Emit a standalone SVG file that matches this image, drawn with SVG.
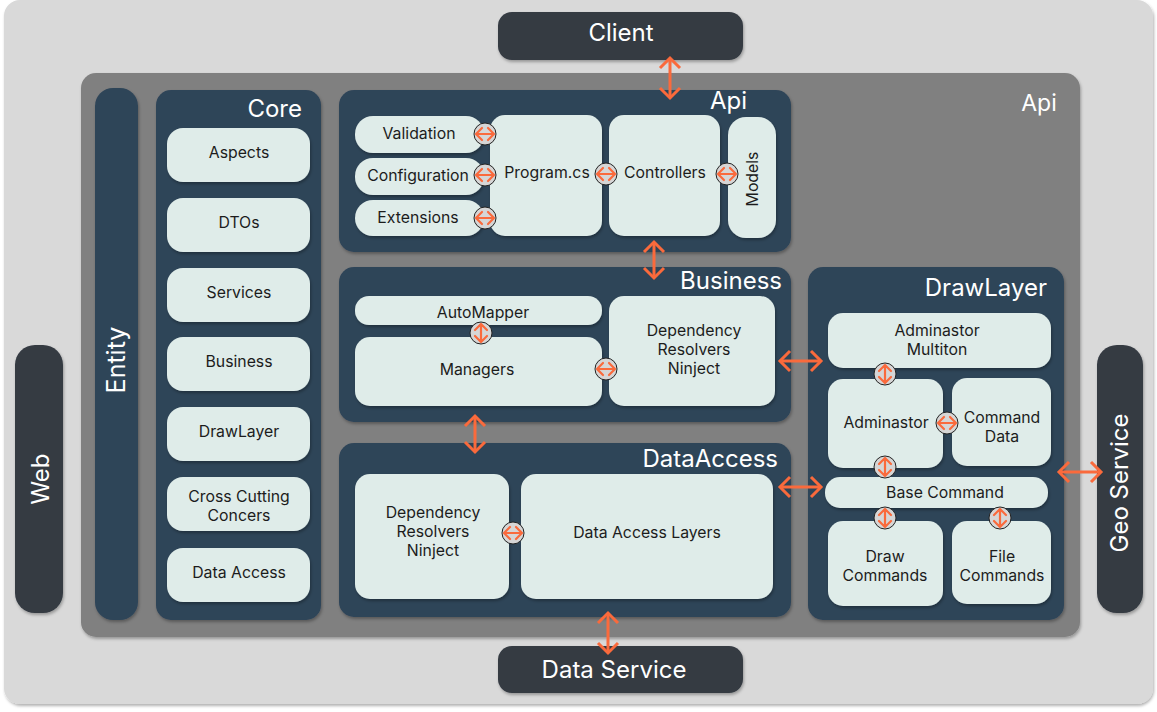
<svg xmlns="http://www.w3.org/2000/svg" width="1157" height="712" viewBox="0 0 1157 712">
<defs>
<style>
.bg{fill:#d9d9d9}
.api{fill:#808080}
.blk{fill:#2e4458}
.dark{fill:#343a42}
.it{fill:#dfece9}
.sh{filter:url(#ds)}
.t{font-family:Inter,"Liberation Sans",sans-serif;font-size:15.8px;fill:#1c1c1c;text-anchor:middle}
.L{font-family:Inter,"Liberation Sans",sans-serif;font-size:24px;fill:#ffffff;text-anchor:end}
.W{font-family:Inter,"Liberation Sans",sans-serif;font-size:24px;fill:#ffffff;text-anchor:middle}
.ar{stroke:#fa6a3c;stroke-width:3;fill:none;marker-start:url(#ch);marker-end:url(#ch)}
.cc{fill:#d6d6d6;stroke:#222;stroke-width:1}
.ca{stroke:#fa6a3c;stroke-width:2.2;fill:none;stroke-linecap:round;stroke-linejoin:round}
</style>
<filter id="ds" x="-10%" y="-10%" width="130%" height="130%">
<feDropShadow dx="1" dy="2" stdDeviation="1.6" flood-color="#000" flood-opacity="0.3"/>
</filter>
<marker id="ch" markerUnits="userSpaceOnUse" markerWidth="16" markerHeight="24" refX="12" refY="12" orient="auto-start-reverse" viewBox="0 0 16 24">
<path d="M2,2 L12,12 L2,22" fill="none" stroke="#fa6a3c" stroke-width="3"/>
</marker>
<g id="hc">
<circle class="cc" r="11"/>
<path class="ca" d="M-8,0 H8 M-3,-6 L-9,0 L-3,6 M3,-6 L9,0 L3,6"/>
</g>
<g id="vc">
<circle class="cc" r="11"/>
<path class="ca" d="M0,-8 V8 M-6,-3 L0,-9 L6,-3 M-6,3 L0,9 L6,3"/>
</g>
</defs>

<g id="background">
<rect class="bg sh" x="4" y="0" width="1149" height="704" rx="16"/>
</g>
<g id="api-container">
<rect class="api sh" x="81" y="73" width="999" height="564" rx="15"/>
<text class="W" x="1039" y="111" style="font-size:23px">Api</text>
</g>

<g id="client">
<rect class="dark sh" x="498" y="12" width="245" height="48" rx="14"/>
<text class="W" x="621" y="41">Client</text>
</g>
<g id="data-service">
<rect class="dark sh" x="498" y="646" width="245" height="47" rx="14"/>
<text class="W" x="614" y="678">Data Service</text>
</g>
<g id="web">
<rect class="dark sh" x="15" y="345" width="48" height="268" rx="20"/>
<text class="W" transform="translate(49,479) rotate(-90)">Web</text>
</g>
<g id="geo-service">
<rect class="dark sh" x="1097" y="345" width="46" height="268" rx="20"/>
<text class="W" transform="translate(1128,483) rotate(-90)">Geo Service</text>
</g>

<g id="entity">
<rect class="blk sh" x="95" y="88" width="43" height="532" rx="18"/>
<text class="W" transform="translate(125,360) rotate(-90)" style="font-size:25px">Entity</text>
</g>

<g id="core">
<rect class="blk sh" x="156" y="90" width="165" height="530" rx="15"/>
<text class="L" x="302" y="117">Core</text>
<rect class="it sh" x="167" y="128" width="143" height="54" rx="16"/>
<text class="t" x="239" y="158">Aspects</text>
<rect class="it sh" x="167" y="198" width="143" height="54" rx="16"/>
<text class="t" x="239" y="228">DTOs</text>
<rect class="it sh" x="167" y="268" width="143" height="54" rx="16"/>
<text class="t" x="239" y="298">Services</text>
<rect class="it sh" x="167" y="337" width="143" height="54" rx="16"/>
<text class="t" x="239" y="367">Business</text>
<rect class="it sh" x="167" y="407" width="143" height="54" rx="16"/>
<text class="t" x="239" y="437">DrawLayer</text>
<rect class="it sh" x="167" y="477" width="143" height="54" rx="16"/>
<text class="t" x="239" y="502">Cross Cutting</text>
<text class="t" x="239" y="521">Concers</text>
<rect class="it sh" x="167" y="548" width="143" height="54" rx="16"/>
<text class="t" x="239" y="578">Data Access</text>
</g>

<g id="api">
<rect class="blk sh" x="339" y="90" width="452" height="162" rx="15"/>
<text class="L" x="747" y="109">Api</text>
<rect class="it sh" x="355" y="116" width="129" height="37" rx="18"/>
<text class="t" x="419" y="139">Validation</text>
<rect class="it sh" x="355" y="158" width="129" height="37" rx="18"/>
<text class="t" x="418" y="181">Configuration</text>
<rect class="it sh" x="355" y="200" width="129" height="36" rx="18"/>
<text class="t" x="418" y="223">Extensions</text>
<rect class="it sh" x="490" y="115" width="112" height="121" rx="15"/>
<text class="t" x="547" y="178">Program.cs</text>
<rect class="it sh" x="609" y="115" width="111" height="121" rx="15"/>
<text class="t" x="665" y="178">Controllers</text>
<rect class="it sh" x="728" y="117" width="48" height="121" rx="18"/>
<text class="t" transform="translate(758,179) rotate(-90)">Models</text>
</g>

<g id="business">
<rect class="blk sh" x="339" y="267" width="452" height="155" rx="15"/>
<text class="L" x="782" y="289">Business</text>
<rect class="it sh" x="355" y="296" width="247" height="29" rx="14"/>
<text class="t" x="483" y="318">AutoMapper</text>
<rect class="it sh" x="355" y="337" width="247" height="69" rx="15"/>
<text class="t" x="477" y="375">Managers</text>
<rect class="it sh" x="609" y="296" width="166" height="110" rx="15"/>
<text class="t" x="694" y="336">Dependency</text>
<text class="t" x="694" y="355">Resolvers</text>
<text class="t" x="694" y="374">Ninject</text>
</g>

<g id="dataaccess">
<rect class="blk sh" x="339" y="443" width="452" height="174" rx="15"/>
<text class="L" x="778" y="467">DataAccess</text>
<rect class="it sh" x="355" y="474" width="154" height="125" rx="15"/>
<text class="t" x="433" y="518">Dependency</text>
<text class="t" x="433" y="537">Resolvers</text>
<text class="t" x="433" y="556">Ninject</text>
<rect class="it sh" x="521" y="474" width="252" height="125" rx="15"/>
<text class="t" x="647" y="538">Data Access Layers</text>
</g>

<g id="drawlayer">
<rect class="blk sh" x="808" y="267" width="256" height="353" rx="15"/>
<text class="L" x="1047" y="296">DrawLayer</text>
<rect class="it sh" x="828" y="313" width="223" height="55" rx="15"/>
<text class="t" x="937" y="336">Adminastor</text>
<text class="t" x="937" y="355">Multiton</text>
<rect class="it sh" x="828" y="379" width="115" height="89" rx="15"/>
<text class="t" x="886" y="428">Adminastor</text>
<rect class="it sh" x="952" y="378" width="99" height="88" rx="15"/>
<text class="t" x="1002" y="423">Command</text>
<text class="t" x="1002" y="442">Data</text>
<rect class="it sh" x="825" y="477" width="223" height="31" rx="15"/>
<text class="t" x="945" y="498">Base Command</text>
<rect class="it sh" x="828" y="521" width="115" height="85" rx="15"/>
<text class="t" x="885" y="562">Draw</text>
<text class="t" x="885" y="581">Commands</text>
<rect class="it sh" x="952" y="521" width="99" height="83" rx="15"/>
<text class="t" x="1002" y="562">File</text>
<text class="t" x="1002" y="581">Commands</text>
</g>

<g id="connectors">
<line class="ar" x1="670" y1="58" x2="670" y2="98"/>
<line class="ar" x1="654" y1="242" x2="654" y2="278"/>
<line class="ar" x1="475" y1="416" x2="475" y2="452"/>
<line class="ar" x1="608" y1="613" x2="608" y2="653"/>
<line class="ar" x1="780" y1="361" x2="821" y2="361"/>
<line class="ar" x1="780" y1="487" x2="821" y2="487"/>
<line class="ar" x1="1059" y1="472" x2="1101" y2="472"/>
<use href="#hc" x="485" y="134"/>
<use href="#hc" x="485" y="175"/>
<use href="#hc" x="485" y="218"/>
<use href="#hc" x="606" y="174"/>
<use href="#hc" x="727" y="174"/>
<use href="#vc" x="481" y="333"/>
<use href="#hc" x="606" y="369"/>
<use href="#hc" x="513" y="533"/>
<use href="#vc" x="885" y="374"/>
<use href="#hc" x="947" y="423"/>
<use href="#vc" x="885" y="467"/>
<use href="#vc" x="885" y="518"/>
<use href="#vc" x="1000" y="518"/>
</g>
</svg>
